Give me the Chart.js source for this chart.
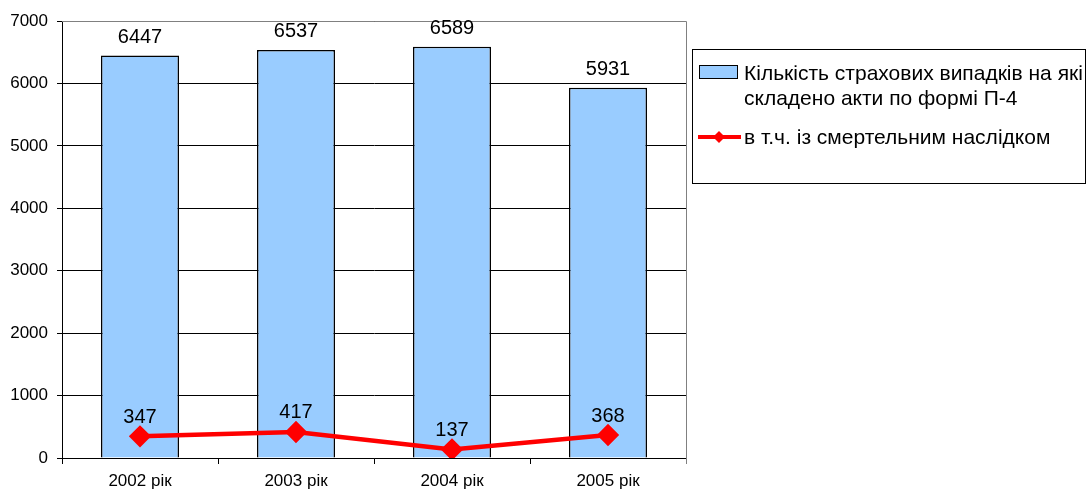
<!DOCTYPE html>
<html>
<head>
<meta charset="utf-8">
<script src="https://cdn.jsdelivr.net/npm/chart.js@4/dist/chart.umd.min.js"></script>
<style>
  body { margin: 0; background: #fff; font-family: "Liberation Sans", Arial, sans-serif; }
  #wrap { position: relative; width: 1087px; height: 491px; overflow: hidden; }
  #legend {
    position: absolute; left: 692px; top: 49px; width: 394px; height: 135px;
    border: 1px solid #000; box-sizing: border-box; font-size: 21px; color: #000;
  }
  .txt { position: absolute; left: 51px; line-height: 25px; white-space: nowrap; }
  .sw-bar { position: absolute; left: 6px; top: 15px; width: 39px; height: 14px; background: #99CCFF; border: 1px solid #000; box-sizing: border-box; }
  #sw { position: absolute; left: 5px; top: 77px; }
</style>
</head>
<body>
<div id="wrap">
  <canvas id="chart-canvas" width="1087" height="491"></canvas>
  <div id="legend">
    <div class="sw-bar"></div>
    <div class="txt" style="top:10px">Кількість страхових випадків на які<br>складено акти по формі П-4</div>
    <canvas id="sw" width="44" height="20"></canvas>
    <div class="txt" style="top:74px">в т.ч. із смертельним наслідком</div>
  </div>
</div>
<script>
//////////////////////////////////////////////////
/////       Data                    //////////////
//////////////////////////////////////////////////

var years = ["2002 рік", "2003 рік", "2004 рік", "2005 рік"];
var totalCases = [6447, 6537, 6589, 5931];
var fatalCases = [347, 417, 137, 368];
var yTicks = [0, 1000, 2000, 3000, 4000, 5000, 6000, 7000];

// legend line swatch
var sw = document.getElementById('sw').getContext('2d');
sw.strokeStyle = '#FF0000'; sw.lineWidth = 4;
sw.beginPath(); sw.moveTo(0, 10); sw.lineTo(43, 10); sw.stroke();
sw.fillStyle = '#FF0000';
sw.beginPath(); sw.moveTo(21, 4); sw.lineTo(27, 10); sw.lineTo(21, 16); sw.lineTo(15, 10); sw.closePath(); sw.fill();

var valueLabels = {
    id: 'valueLabels',
    afterDatasetsDraw: function (chart) {
        var c = chart.ctx;
        c.save();
        c.fillStyle = '#000';
        c.font = '20px "Liberation Sans", Arial, sans-serif';
        c.textAlign = 'center';
        c.textBaseline = 'bottom';
        chart.data.datasets.forEach(function (ds, i) {
            chart.getDatasetMeta(i).data.forEach(function (el, j) {
                var off = ds.type === 'line' ? 9 : 8;
                c.fillText(ds.data[j], el.x, el.y - off);
            });
        });
        c.restore();
    }
};

var frame = {
    id: 'frame',
    beforeDatasetsDraw: function (chart) {
        var a = chart.chartArea, c = chart.ctx;
        c.save();
        c.strokeStyle = '#808080';
        c.lineWidth = 1;
        c.beginPath();
        c.moveTo(a.left, a.top + 0.5); c.lineTo(a.right + 0.5, a.top + 0.5); c.lineTo(a.right + 0.5, a.bottom + 6);
        c.stroke();
        c.restore();
    }
};

var ctx = document.getElementById('chart-canvas').getContext('2d');
var myChart = new Chart(ctx, {
    data: {
        labels: years,
        datasets: [
            {
                type: 'line',
                label: "в т.ч. із смертельним наслідком",
                data: fatalCases,
                borderColor: "#FF0000",
                backgroundColor: "#FF0000",
                borderWidth: 4.5,
                pointStyle: 'rectRot',
                pointRadius: 8,
                pointHoverRadius: 8,
                tension: 0,
                order: 0
            },
            {
                type: 'bar',
                label: "Кількість страхових випадків на які складено акти по формі П-4",
                data: totalCases,
                backgroundColor: "#99CCFF",
                borderColor: "#000",
                borderWidth: 1.5,
                categoryPercentage: 1,
                barPercentage: 0.5,
                order: 1
            }
        ]
    },
    options: {
        responsive: false,
        animation: false,
        layout: { padding: { top: 21, right: 401, left: 0, bottom: 0 } },
        plugins: { legend: { display: false }, tooltip: { enabled: false } },
        scales: {
            x: {
                offset: true,
                grid: { offset: true, drawOnChartArea: false, tickLength: 6, color: '#000' },
                border: { color: '#000', width: 1 },
                ticks: { color: '#000', font: { size: 17, family: '"Liberation Sans", Arial' }, padding: 7 },
                afterFit: function (s) { s.height = 33; }
            },
            y: {
                min: 0, max: 7000,
                afterBuildTicks: function (s) { s.ticks = yTicks.map(function (v) { return { value: v }; }); },
                grid: { color: '#000', tickLength: 5 },
                border: { color: '#000', width: 1 },
                ticks: {
                    color: '#000', font: { size: 17, family: '"Liberation Sans", Arial' }, padding: 9,
                    callback: function (v) { return String(v); }
                },
                afterFit: function (s) { s.width = 62; }
            }
        }
    },
    plugins: [valueLabels, frame]
});
</script>
</body>
</html>
